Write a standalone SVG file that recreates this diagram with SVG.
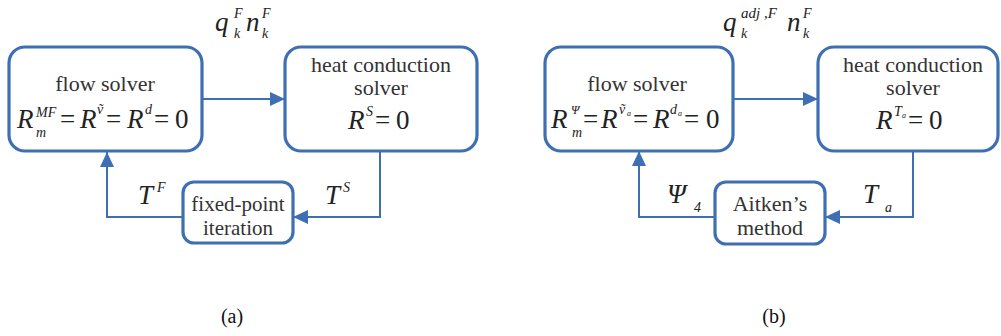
<svg xmlns="http://www.w3.org/2000/svg" width="1001" height="336" viewBox="0 0 1001 336">
<defs>
<marker id="ah" markerUnits="userSpaceOnUse" markerWidth="16" markerHeight="14" refX="15" refY="7" orient="auto">
<path d="M0,0 L15,7 L0,14 Z" fill="#3f6fb3"/>
</marker>
<style>
.box{fill:#fff;stroke:#3f6fb3;stroke-width:3.2}
.con{fill:none;stroke:#3f6fb3;stroke-width:2}
.t{font-family:"Liberation Serif",serif;font-size:22px;fill:#333;text-anchor:middle}
.t2{font-family:"Liberation Serif",serif;font-size:21px;fill:#333;text-anchor:middle}
.m{font-family:"Liberation Serif",serif;font-style:italic;font-size:27px;fill:#222}
.u{font-family:"Liberation Serif",serif;font-style:normal;font-size:27px;fill:#222}
.s{font-family:"Liberation Serif",serif;font-style:italic;font-size:14px;fill:#222}
.cap{font-family:"Liberation Serif",serif;font-size:20px;fill:#111;text-anchor:middle}
</style>
</defs>
<rect width="1001" height="336" fill="#fff"/>

<g id="connectors">
<line class="con" x1="202" y1="99" x2="285" y2="99" marker-end="url(#ah)"/>
<polyline class="con" points="380,151 380,217 293,217" marker-end="url(#ah)"/>
<polyline class="con" points="183,217 107,217 107,152" marker-end="url(#ah)"/>
<line class="con" x1="733" y1="99" x2="818" y2="99" marker-end="url(#ah)"/>
<polyline class="con" points="913,151 913,217 825,217" marker-end="url(#ah)"/>
<polyline class="con" points="715,217 639,217 639,151" marker-end="url(#ah)"/>
</g>

<g id="flow-a">
<rect class="box" x="9" y="47" width="193" height="104" rx="16"/>
<text class="t" x="105" y="91">flow solver</text>
<text class="m" x="17" y="128">R</text>
<text class="s" x="36" y="117">MF</text>
<text class="s" x="36" y="137">m</text>
<text class="u" x="60" y="128">=</text>
<text class="m" x="80" y="128">R</text>
<text class="s" x="97" y="114">ṽ</text>
<text class="u" x="106" y="128">=</text>
<text class="m" x="127" y="128">R</text>
<text class="s" x="145" y="114">d</text>
<text class="u" x="154" y="128">=</text>
<text class="u" x="175" y="128">0</text>
</g>

<g id="heat-a">
<rect class="box" x="285" y="47" width="192" height="104" rx="16"/>
<text class="t" x="381" y="72">heat conduction</text>
<text class="t" x="381" y="95">solver</text>
<text class="m" x="348" y="129">R</text>
<text class="s" x="366" y="116">S</text>
<text class="u" x="375" y="129">=</text>
<text class="u" x="396" y="129">0</text>
</g>

<g id="fixed-point">
<rect class="box" x="183" y="182" width="110" height="61" rx="11"/>
<text class="t2" x="238" y="211">fixed-point</text>
<text class="t2" x="238" y="235">iteration</text>
</g>

<g id="labels-a">
<text class="m" x="215" y="31">q</text>
<text class="s" x="234" y="18">F</text>
<text class="s" x="234" y="38">k</text>
<text class="m" x="246" y="31">n</text>
<text class="s" x="262" y="18">F</text>
<text class="s" x="262" y="38">k</text>
<text class="m" x="138" y="204">T</text>
<text class="s" x="157" y="192">F</text>
<text class="m" x="325" y="204">T</text>
<text class="s" x="343" y="192">S</text>
<text class="cap" x="232" y="323">(a)</text>
</g>

<g id="flow-b">
<rect class="box" x="545" y="47" width="188" height="104" rx="16"/>
<text class="t" x="637" y="91">flow solver</text>
<text class="m" x="551" y="128">R</text>
<text class="s" x="571" y="114" style="font-size:12px">Ψ</text>
<text class="s" x="572" y="137">m</text>
<text class="u" x="583" y="128">=</text>
<text class="m" x="601" y="128">R</text>
<text class="s" x="619" y="114">ṽ</text>
<text class="s" x="627" y="116" style="font-size:8px">a</text>
<text class="u" x="633" y="128">=</text>
<text class="m" x="653" y="128">R</text>
<text class="s" x="670" y="114">d</text>
<text class="s" x="678" y="116" style="font-size:8px">a</text>
<text class="u" x="684" y="128">=</text>
<text class="u" x="706" y="128">0</text>
</g>

<g id="heat-b">
<rect class="box" x="818" y="47" width="180" height="104" rx="16"/>
<text class="t" x="913" y="72">heat conduction</text>
<text class="t" x="913" y="95">solver</text>
<text class="m" x="876" y="129">R</text>
<text class="s" x="894" y="116">T</text>
<text class="s" x="902" y="118" style="font-size:8px">a</text>
<text class="u" x="908" y="129">=</text>
<text class="u" x="929" y="129">0</text>
</g>

<g id="aitken">
<rect class="box" x="715" y="182" width="110" height="62" rx="11"/>
<text class="t" x="770" y="211">Aitken’s</text>
<text class="t" x="770" y="235">method</text>
</g>

<g id="labels-b">
<text class="m" x="723" y="31">q</text>
<text class="s" x="741" y="18" style="font-size:15px">adj ,F</text>
<text class="s" x="741" y="38">k</text>
<text class="m" x="787" y="31">n</text>
<text class="s" x="803" y="18">F</text>
<text class="s" x="803" y="38">k</text>
<text class="m" x="667" y="203">Ψ</text>
<text class="s" x="694" y="212">4</text>
<text class="m" x="863" y="203">T</text>
<text class="s" x="885" y="212">a</text>
<text class="cap" x="774" y="323">(b)</text>
</g>
</svg>
